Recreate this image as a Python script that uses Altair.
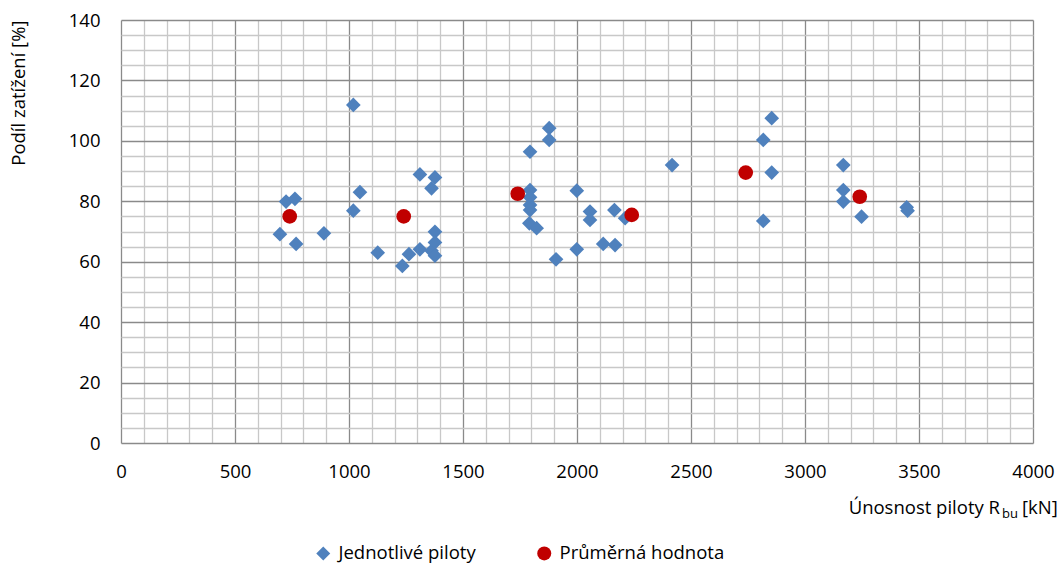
import altair as alt
import pandas as pd

# Individual piles (Jednotlivé piloty)
pile_x = [697, 724, 763, 768, 890,
          1019, 1019, 1048, 1126, 1234, 1263, 1311, 1311, 1362, 1362, 1377, 1377, 1377, 1377,
          1794, 1794, 1794, 1794, 1794, 1791, 1823, 1878, 1878, 1908, 1999, 1999, 2057, 2057,
          2115, 2164, 2167, 2211, 2417,
          2817, 2817, 2854, 2854,
          3168, 3168, 3168, 3248, 3446, 3450]
pile_y = [69.1, 79.9, 80.8, 65.9, 69.4,
          111.9, 76.9, 83.0, 63.0, 58.6, 62.5, 88.9, 64.1, 84.3, 63.6, 87.9, 69.9, 66.4, 62.0,
          96.4, 83.7, 81.3, 78.8, 77.1, 72.7, 71.1, 104.2, 100.3, 60.8, 83.5, 64.1, 76.6, 73.8,
          65.9, 77.1, 65.5, 74.4, 92.0,
          100.3, 73.5, 107.5, 89.5,
          92.0, 83.7, 79.9, 74.9, 78.0, 76.9]

# Average values (Průměrná hodnota)
avg_x = [740, 1240, 1740, 2240, 2740, 3240]
avg_y = [75.0, 75.0, 82.5, 75.5, 89.5, 81.5]

series_names = ["Jednotlivé piloty", "Průměrná hodnota"]
series_colors = ["#4f81bd", "#c00000"]
series_shapes = ["diamond", "circle"]

x_ticks = list(range(0, 4001, 100))
y_ticks = list(range(0, 141, 5))

FONT = "Open Sans"
FS = 18.5

df = pd.concat([
    pd.DataFrame({"x": pile_x, "y": pile_y, "s": series_names[0]}),
    pd.DataFrame({"x": avg_x, "y": avg_y, "s": series_names[1]}),
], ignore_index=True)

major_x = {"condition": {"test": "datum.value % 500 === 0", "value": "#8a8a8a"}, "value": "#c8c8c8"}
major_y = {"condition": {"test": "datum.value % 20 === 0", "value": "#8a8a8a"}, "value": "#c8c8c8"}

legend = alt.Legend(title=None, orient="none", legendX=193, legendY=524,
                    direction="horizontal", columnPadding=59, labelOffset=6,
                    symbolSize=196, labelFont=FONT, labelFontSize=FS, labelLimit=0,
                    labelColor="#000000", padding=0)

points = alt.Chart(df).mark_point(filled=True, opacity=1, size=216).encode(
    x=alt.X("x:Q", scale=alt.Scale(domain=[0, 4000], nice=False, zero=True),
            axis=alt.Axis(values=x_ticks, title=None, grid=True, gridColor=major_x,
                          gridWidth=1.3, ticks=False, tickSize=0, domain=False,
                          labelExpr="datum.value % 500 === 0 ? '' + datum.value : ''",
                          labelOverlap=False, labelFlush=False, labelPadding=19,
                          labelFont=FONT, labelFontSize=FS, labelColor="#000000")),
    y=alt.Y("y:Q", scale=alt.Scale(domain=[0, 140], nice=False),
            axis=alt.Axis(values=y_ticks, title="Podíl zatížení [%]", grid=True, gridColor=major_y,
                          gridWidth=1.3, ticks=False, tickSize=0, domain=False,
                          labelExpr="datum.value % 20 === 0 ? '' + datum.value : ''",
                          labelOverlap=False, labelFlush=False, labelPadding=21,
                          labelFont=FONT, labelFontSize=FS, labelColor="#000000",
                          titleFont=FONT, titleFontSize=FS, titleFontWeight="normal",
                          titleColor="#000000", titleAngle=270, titleAlign="right",
                          titleBaseline="middle", titleAnchor="end", titleX=-103, titleY=0)),
    color=alt.Color("s:N", scale=alt.Scale(domain=series_names, range=series_colors),
                    legend=legend),
    shape=alt.Shape("s:N", scale=alt.Scale(domain=series_names, range=series_shapes),
                    legend=legend),
)

title_main = alt.Chart(pd.DataFrame({"t": ["Únosnost piloty R"]})).mark_text(
    align="right", baseline="alphabetic", font=FONT, fontSize=FS, color="#000000"
).encode(text="t:N", x=alt.value(879), y=alt.value(494))

title_sub = alt.Chart(pd.DataFrame({"t": ["bu"]})).mark_text(
    align="left", baseline="alphabetic", font=FONT, fontSize=13, color="#000000"
).encode(text="t:N", x=alt.value(881), y=alt.value(498))

title_unit = alt.Chart(pd.DataFrame({"t": ["[kN]"]})).mark_text(
    align="left", baseline="alphabetic", font=FONT, fontSize=FS, color="#000000"
).encode(text="t:N", x=alt.value(901), y=alt.value(494))

chart = alt.layer(points, title_main, title_sub, title_unit).properties(
    width=912, height=423,
    autosize=alt.AutoSizeParams(type="none"),
    padding={"left": 121, "top": 20, "right": 28, "bottom": 126},
    background="#ffffff",
).configure_view(stroke=None)

chart.save("out.html", embed_options={"renderer": "svg", "actions": False})
